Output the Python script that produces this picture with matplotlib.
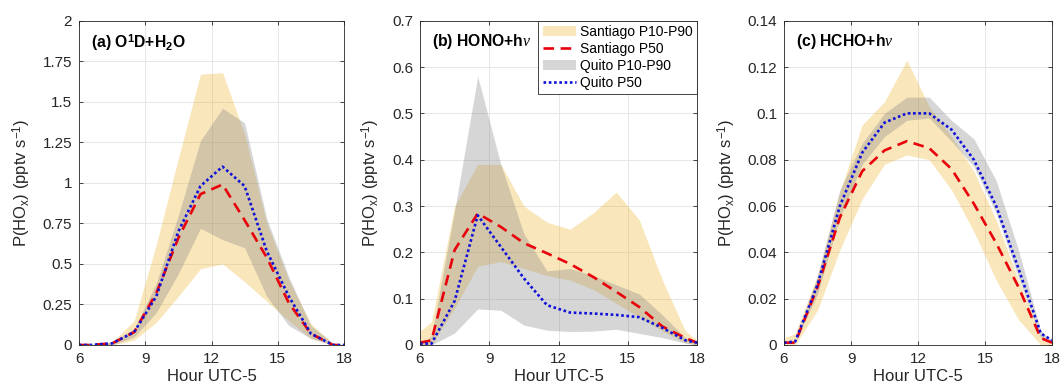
import numpy as np
import matplotlib
matplotlib.use('agg')
import matplotlib.pyplot as plt
from matplotlib.ticker import FuncFormatter
from matplotlib.patches import Patch
from matplotlib.lines import Line2D

plt.rcParams['font.family'] = ['Liberation Sans', 'DejaVu Sans']
plt.rcParams['mathtext.fontset'] = 'custom'
plt.rcParams['mathtext.rm'] = 'Liberation Sans'
plt.rcParams['mathtext.bf'] = 'Liberation Sans:bold'
plt.rcParams['mathtext.it'] = 'Liberation Serif:italic'

# hours of the diurnal profile
hours = [6, 6.5, 7.5, 8.5, 9.5, 10.5, 11.5, 12.5, 13.5, 14.5, 15.5, 16.5, 17.5, 18]

# (a) O1D+H2O
santiago_a_p10 = [0, 0, 0, 0.03, 0.14, 0.30, 0.47, 0.50, 0.39, 0.27, 0.15, 0.04, 0, 0]
santiago_a_p90 = [0, 0, 0.02, 0.15, 0.62, 1.15, 1.67, 1.68, 1.30, 0.75, 0.40, 0.13, 0.01, 0]
santiago_a_p50 = [0, 0, 0.01, 0.08, 0.32, 0.66, 0.93, 0.99, 0.77, 0.54, 0.26, 0.07, 0, 0]
quito_a_p10 = [0, 0, 0, 0.05, 0.20, 0.44, 0.72, 0.65, 0.60, 0.30, 0.12, 0.04, 0, 0]
quito_a_p90 = [0, 0, 0.02, 0.10, 0.38, 0.80, 1.26, 1.46, 1.37, 0.78, 0.42, 0.12, 0.01, 0]
quito_a_p50 = [0, 0, 0.01, 0.08, 0.30, 0.70, 0.98, 1.10, 0.98, 0.58, 0.30, 0.07, 0, 0]

# (b) HONO+hv
santiago_b_p10 = [0, 0, 0.08, 0.17, 0.18, 0.165, 0.15, 0.14, 0.12, 0.09, 0.06, 0.03, 0.005, 0]
santiago_b_p90 = [0.03, 0.05, 0.30, 0.39, 0.39, 0.30, 0.265, 0.25, 0.285, 0.33, 0.27, 0.14, 0.03, 0.01]
santiago_b_p50 = [0.005, 0.01, 0.205, 0.284, 0.255, 0.22, 0.198, 0.175, 0.147, 0.115, 0.082, 0.04, 0.015, 0.005]
quito_b_p10 = [0, 0, 0.026, 0.078, 0.075, 0.043, 0.032, 0.029, 0.030, 0.034, 0.025, 0.016, 0.004, 0]
quito_b_p90 = [0, 0.02, 0.29, 0.58, 0.39, 0.24, 0.16, 0.165, 0.15, 0.13, 0.11, 0.065, 0.015, 0.005]
quito_b_p50 = [0.003, 0.003, 0.095, 0.28, 0.212, 0.144, 0.086, 0.07, 0.068, 0.065, 0.06, 0.037, 0.01, 0.005]

# (c) HCHO+hv
santiago_c_p10 = [0, 0, 0.015, 0.041, 0.063, 0.078, 0.082, 0.080, 0.067, 0.049, 0.028, 0.011, 0, 0]
santiago_c_p90 = [0.003, 0.005, 0.03, 0.066, 0.095, 0.105, 0.123, 0.103, 0.09, 0.075, 0.054, 0.028, 0.004, 0.001]
santiago_c_p50 = [0.001, 0.001, 0.025, 0.055, 0.075, 0.084, 0.088, 0.085, 0.076, 0.061, 0.044, 0.025, 0.003, 0.001]
quito_c_p10 = [0.001, 0.001, 0.022, 0.055, 0.078, 0.09, 0.097, 0.098, 0.088, 0.077, 0.057, 0.029, 0.003, 0.001]
quito_c_p90 = [0.001, 0.002, 0.03, 0.067, 0.087, 0.1, 0.107, 0.107, 0.097, 0.089, 0.071, 0.041, 0.006, 0.002]
quito_c_p50 = [0.001, 0.0015, 0.026, 0.06, 0.083, 0.096, 0.1, 0.1, 0.093, 0.08, 0.06, 0.033, 0.005, 0.002]

titles = [r'(a) O$^{\mathbf{1}}$D+H$_{\mathbf{2}}$O',
          r'(b) HONO+h$\nu$',
          r'(c) HCHO+h$\nu$']
ymaxes = [2, 0.7, 0.14]
yticks = [np.arange(0, 2.01, 0.25), np.arange(0, 0.71, 0.1), np.arange(0, 0.141, 0.02)]

panels = [
    (santiago_a_p10, santiago_a_p90, santiago_a_p50, quito_a_p10, quito_a_p90, quito_a_p50),
    (santiago_b_p10, santiago_b_p90, santiago_b_p50, quito_b_p10, quito_b_p90, quito_b_p50),
    (santiago_c_p10, santiago_c_p90, santiago_c_p50, quito_c_p10, quito_c_p90, quito_c_p50),
]

tan = '#EDB120'
grey = '#808080'
dark = '#262626'
red = '#e8000b'
blue = '#1010d8'
red_ls = (0, (4, 2.5))
blue_ls = (0, (1, 1))

W, H = 1062, 391
# axes boxes in pixels: left, right
boxes = [(79, 344), (420, 697), (784, 1052)]
top_px, bot_px = 20.7, 345

fig = plt.figure(figsize=(W / 100, H / 100), dpi=100)

fmt = FuncFormatter(lambda v, p: '%g' % round(v, 4))

for i, (l, r) in enumerate(boxes):
    ax = fig.add_axes([l / W, 1 - bot_px / H, (r - l) / W, (bot_px - top_px) / H])
    s10, s90, s50, q10, q90, q50 = panels[i]
    ax.fill_between(hours, s10, s90, color=tan, alpha=0.3, linewidth=0)
    ax.fill_between(hours, q10, q90, color=grey, alpha=0.32, linewidth=0)
    ax.plot(hours, s50, color=red, linestyle=red_ls, linewidth=1.9)
    ax.plot(hours, q50, color=blue, linestyle=blue_ls, linewidth=1.9)

    ax.set_xlim(6, 18)
    ax.set_ylim(0, ymaxes[i])
    ax.set_xticks([6, 9, 12, 15, 18])
    ax.set_yticks(yticks[i])
    ax.yaxis.set_major_formatter(fmt)
    ax.grid(True, color='#e6e6e6', linewidth=0.7)
    ax.set_axisbelow(True)
    for sp in ax.spines.values():
        sp.set_color(dark)
        sp.set_linewidth(0.6)
    ax.tick_params(direction='in', top=True, right=True, length=3, width=0.6,
                   colors=dark, labelsize=11, pad=5)
    ax.set_xlabel('Hour UTC-5', fontsize=12, color=dark, labelpad=2)
    ax.set_ylabel(r'P(HO$_{\mathrm{x}}$) (pptv s$^{\mathrm{-1}}$)', fontsize=12, color=dark, labelpad=7)
    ax.text(0.045, 0.965, titles[i], transform=ax.transAxes, ha='left', va='top',
            fontsize=11.3, fontweight='bold', color='black')

    if i == 1:
        handles = [Patch(facecolor=tan, alpha=0.3, edgecolor='none'),
                   Line2D([], [], color=red, linestyle=red_ls, linewidth=1.9),
                   Patch(facecolor=grey, alpha=0.32, edgecolor='none'),
                   Line2D([], [], color=blue, linestyle=blue_ls, linewidth=1.9)]
        labels = ['Santiago P10-P90', 'Santiago P50', 'Quito P10-P90', 'Quito P50']
        leg = ax.legend(handles, labels, loc='upper right', fontsize=10, frameon=True,
                        fancybox=False, borderaxespad=0, handlelength=2.4,
                        handletextpad=0.3, labelspacing=0.22, borderpad=0.3,
                        framealpha=1)
        leg.get_frame().set_edgecolor(dark)
        leg.get_frame().set_linewidth(0.6)

fig.savefig('out.png', dpi=100)
